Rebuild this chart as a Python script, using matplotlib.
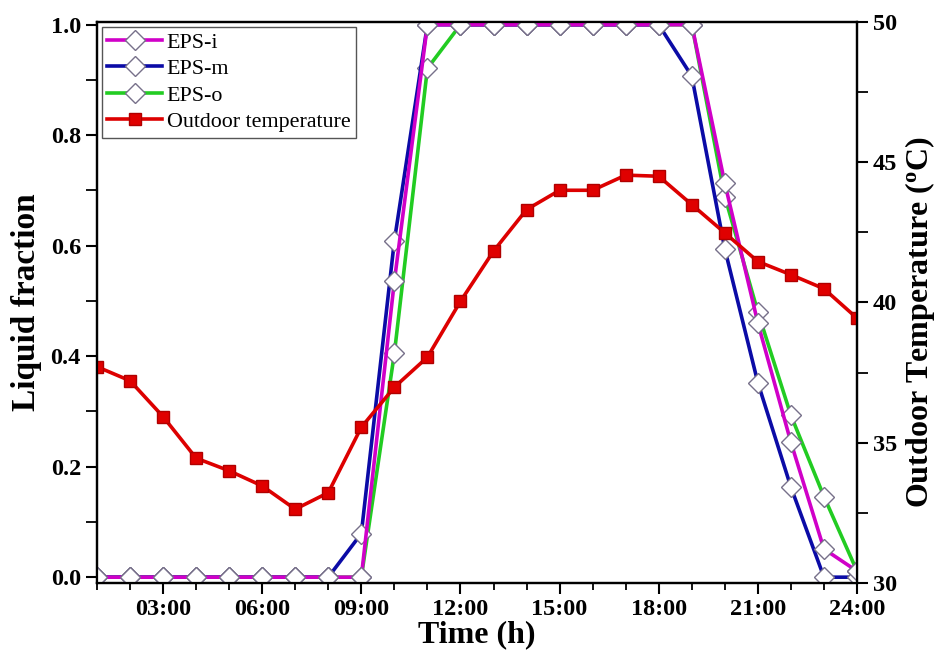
import matplotlib
matplotlib.use('Agg')
import matplotlib.pyplot as plt
from matplotlib.ticker import MultipleLocator

plt.rcParams['font.family'] = ['Liberation Serif', 'DejaVu Serif']
plt.rcParams['mathtext.fontset'] = 'custom'
plt.rcParams['mathtext.rm'] = 'Liberation Serif:bold'
plt.rcParams['mathtext.it'] = 'Liberation Serif:bold'
plt.rcParams['mathtext.bf'] = 'Liberation Serif:bold'

hours = list(range(1, 25))
tick_hours = [3, 6, 9, 12, 15, 18, 21, 24]
tick_labels = ['03:00', '06:00', '09:00', '12:00', '15:00', '18:00', '21:00', '24:00']

eps_i = [0, 0, 0, 0, 0, 0, 0, 0, 0, 0.536, 1, 1, 1, 1, 1, 1, 1, 1, 1,
         0.713, 0.460, 0.244, 0.051, 0.011]
eps_m = [0, 0, 0, 0, 0, 0, 0, 0, 0.079, 0.609, 1, 1, 1, 1, 1, 1, 1, 1, 0.907,
         0.594, 0.352, 0.163, 0.0, 0.0]
eps_o = [0, 0, 0, 0, 0, 0, 0, 0, 0, 0.405, 0.921, 1, 1, 1, 1, 1, 1, 1, 1,
         0.689, 0.480, 0.293, 0.146, 0.011]
t_out = [37.71, 37.21, 35.93, 34.45, 34.0, 33.46, 32.63, 33.22, 35.55, 36.98,
         38.05, 40.04, 41.83, 43.31, 44.0, 44.0, 44.54, 44.5, 43.49, 42.48,
         41.46, 40.99, 40.49, 39.44]

fig = plt.figure(figsize=(9.36, 6.54), dpi=100)
ax = fig.add_axes([0.1036, 0.1086, 0.812, 0.8578])
ax2 = ax.twinx()

mk = dict(marker='D', markersize=10, markerfacecolor='white',
          markeredgecolor='#77708a', markeredgewidth=1.0, lw=2.6)
l3, = ax.plot(hours, eps_o, color='#22cc22', label='EPS-o', zorder=2, **mk)
l2, = ax.plot(hours, eps_m, color='#0b0ba6', label='EPS-m', zorder=3, **mk)
l1, = ax.plot(hours, eps_i, color='#d000c8', label='EPS-i', zorder=4, **mk)
l4, = ax2.plot(hours, t_out, color='#dd0000', marker='s', markersize=8,
               markerfacecolor='#e00000', markeredgecolor='#b00000', lw=2.6,
               label='Outdoor temperature')

ax.set_xlim(1, 24)
ax.set_ylim(-0.0105, 1.005)
ax2.set_ylim(30, 50)

ax.set_xticks(tick_hours)
ax.set_xticklabels(tick_labels)
ax.xaxis.set_minor_locator(MultipleLocator(1))
ax.yaxis.set_major_locator(MultipleLocator(0.2))
ax.yaxis.set_minor_locator(MultipleLocator(0.1))
ax2.yaxis.set_major_locator(MultipleLocator(5))
ax2.yaxis.set_minor_locator(MultipleLocator(2.5))

ax.tick_params(axis='both', which='major', direction='out', length=8, width=1.5,
               labelsize=17.5)
ax.tick_params(axis='x', which='minor', direction='out', length=5, width=1.3)
ax.tick_params(axis='y', which='minor', direction='out', length=8, width=1.3)
ax2.tick_params(axis='y', which='major', direction='out', length=8, width=1.5,
                labelsize=17.5)
ax2.tick_params(axis='y', which='minor', direction='out', length=8, width=1.3)
ax.set_yticks([0, 0.2, 0.4, 0.6, 0.8, 1.0])
ax.set_yticklabels(['0.0', '0.2', '0.4', '0.6', '0.8', '1.0'])
for lab in ax.get_xticklabels() + ax.get_yticklabels() + ax2.get_yticklabels():
    lab.set_fontweight('bold')

for a in (ax, ax2):
    for s in a.spines.values():
        s.set_linewidth(1.6)

ax.set_xlabel('Time (h)', fontsize=23, fontweight='bold', labelpad=0)
ax.set_ylabel('Liquid fraction', fontsize=24, fontweight='bold', labelpad=6)
ax2.set_ylabel(r'Outdoor Temperature ($^{o}$C)', fontsize=23, fontweight='bold')
ax2.yaxis.set_label_coords(1.0605, 0.465)

leg = ax2.legend([l1, l2, l3, l4], ['EPS-i', 'EPS-m', 'EPS-o', 'Outdoor temperature'],
                 loc='upper left', fontsize=15.8, fancybox=False, framealpha=1,
                 edgecolor='#555555', borderaxespad=0.22, handlelength=2.5,
                 handletextpad=0.2, borderpad=0.25, labelspacing=0.28)
leg.get_frame().set_linewidth(1.0)

fig.savefig('out.png', dpi=100)
